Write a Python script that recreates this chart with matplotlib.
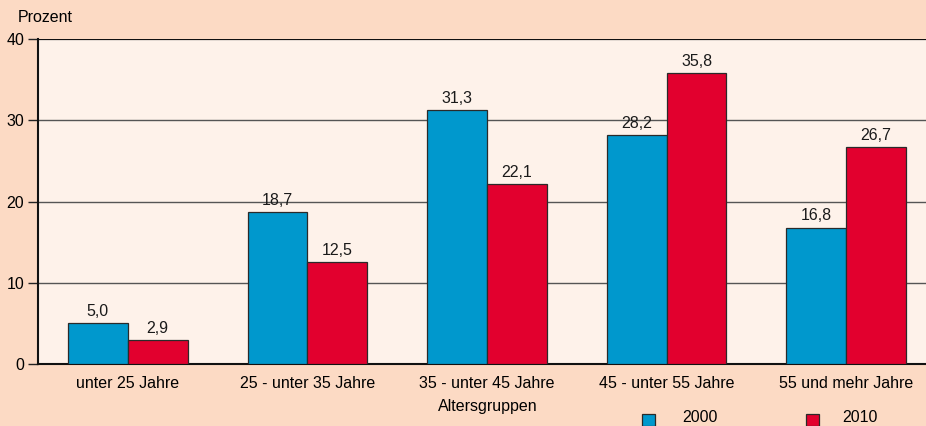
import matplotlib
matplotlib.use("Agg")
import matplotlib.pyplot as plt
from matplotlib.patches import Rectangle
import numpy as np

categories = ["unter 25 Jahre", "25 - unter 35 Jahre", "35 - unter 45 Jahre",
              "45 - unter 55 Jahre", "55 und mehr Jahre"]
values_2000 = [5.0, 18.7, 31.3, 28.2, 16.8]
values_2010 = [2.9, 12.5, 22.1, 35.8, 26.7]
series_names = ["2000", "2010"]
yticks = [0, 10, 20, 30, 40]

plt.rcParams['font.family'] = ['Liberation Sans', 'DejaVu Sans']
FS = 11.5
W, H = 926, 426
fig = plt.figure(figsize=(W / 100, H / 100), dpi=100)
fig.patch.set_facecolor("#FCDAC4")

left_px, top_px, bottom_px = 38, 39, 364
group_px = 179.6
ax = fig.add_axes([left_px / W, (H - bottom_px) / H, 5 * group_px / W, (bottom_px - top_px) / H])
ax.set_facecolor("#FEF2EA")

blue = "#0098CD"
red = "#E2002E"
x = np.arange(len(categories))
bw = 1 / 3
b1 = ax.bar(x - bw / 2, values_2000, bw, color=blue, edgecolor="#2a2a2a", linewidth=0.9, zorder=3)
b2 = ax.bar(x + bw / 2, values_2010, bw, color=red, edgecolor="#2a2a2a", linewidth=0.9, zorder=3)

def fmt(v):
    return f"{v:.1f}".replace(".", ",")

for bars, vals in ((b1, values_2000), (b2, values_2010)):
    for r, v in zip(bars, vals):
        ax.annotate(fmt(v), (r.get_x() + r.get_width() / 2, v), xytext=(0, 3),
                    textcoords="offset points", ha="center", va="bottom", fontsize=FS, color="#1a1a1a")

ax.set_xlim(-0.5, 4.5)
ax.set_ylim(0, 40)
ax.set_yticks(yticks)
ax.set_yticklabels([str(t) for t in yticks], fontsize=FS)
for t in yticks[1:-1]:
    ax.axhline(t, color="#555555", linewidth=1.0, zorder=1)
ax.axhline(40, color="#111111", linewidth=1.6, zorder=2)
ax.set_xticks(x)
ax.set_xticklabels(categories, fontsize=FS)
ax.tick_params(axis="x", length=0, pad=9)
ax.tick_params(axis="y", length=7, width=1, direction="out", pad=3, color="#222222")
for s in ("top", "right"):
    ax.spines[s].set_visible(False)
ax.spines["left"].set_linewidth(1.5)
ax.spines["bottom"].set_linewidth(1.5)
ax.spines["left"].set_color("#111111")
ax.spines["bottom"].set_color("#111111")

fig.text(18 / W, 1 - 18 / H, "Prozent", fontsize=FS, ha="left", va="center")
fig.text(488 / W, 1 - 407 / H, "Altersgruppen", fontsize=FS, ha="center", va="center")

# legend
for cx, col, lab, tx in ((648, blue, series_names[0], 700), (812, red, series_names[1], 860)):
    fig.patches.append(Rectangle(((cx - 6) / W, 1 - 426 / H), 13 / W, 12 / H,
                                 transform=fig.transFigure, facecolor=col, edgecolor="#2a2a2a",
                                 linewidth=0.9))
    fig.text(tx / W, 1 - 418 / H, lab, fontsize=FS, ha="center", va="center")

fig.savefig("out.png", dpi=100, facecolor=fig.get_facecolor())
